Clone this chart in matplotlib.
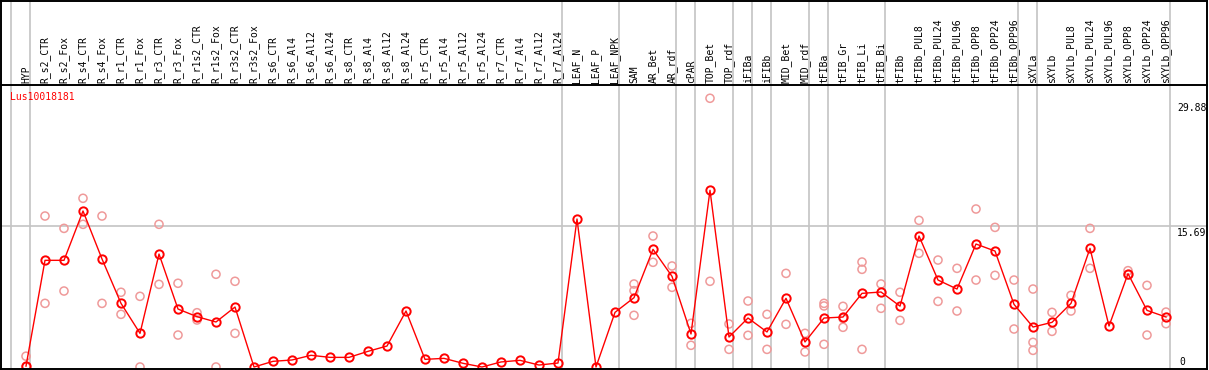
import matplotlib
matplotlib.use("Agg")
import matplotlib.pyplot as plt
import matplotlib.transforms as mtransforms

# sample names (one column each)
samples = ["HYP", "R_s2_CTR", "R_s2_Fox", "R_s4_CTR", "R_s4_Fox", "R_r1_CTR", "R_r1_Fox",
           "R_r3_CTR", "R_r3_Fox", "R_r1s2_CTR", "R_r1s2_Fox", "R_r3s2_CTR", "R_r3s2_Fox",
           "R_s6_CTR", "R_s6_Al4", "R_s6_Al12", "R_s6_Al24", "R_s8_CTR", "R_s8_Al4",
           "R_s8_Al12", "R_s8_Al24", "R_r5_CTR", "R_r5_Al4", "R_r5_Al12", "R_r5_Al24",
           "R_r7_CTR", "R_r7_Al4", "R_r7_Al12", "R_r7_Al24", "LEAF_N", "LEAF_P", "LEAF_NPK",
           "SAM", "AR_Bet", "AR_rdf", "cPAR", "TOP_Bet", "TOP_rdf", "iFIBa", "iFIBb",
           "MID_Bet", "MID_rdf", "tFIBa", "tFIB_Gr", "tFIB_Li", "tFIB_Bi", "tFIBb",
           "tFIBb_PUL8", "tFIBb_PUL24", "tFIBb_PUL96", "tFIBb_OPP8", "tFIBb_OPP24",
           "tFIBb_OPP96", "sXYLa", "sXYLb", "sXYLb_PUL8", "sXYLb_PUL24", "sXYLb_PUL96",
           "sXYLb_OPP8", "sXYLb_OPP24", "sXYLb_OPP96"]

# mean expression
means = [0.1, 11.85, 11.85, 17.33, 12.0, 7.07, 3.74, 12.55, 6.44, 5.59, 5.0, 6.66, 0.0,
         0.63, 0.78, 1.3, 1.07, 1.07, 1.74, 2.33, 6.22, 0.85, 0.96, 0.41, 0.0,
         0.56, 0.74, 0.22, 0.44, 16.44, 0.0, 6.07,
         7.7, 13.07, 10.07, 3.67, 19.63, 3.33, 5.44, 3.89,
         7.63, 2.78, 5.44, 5.55, 8.18, 8.33, 6.76,
         14.55, 9.66, 8.66, 13.66, 12.88, 6.96,
         4.44, 4.96, 7.07, 13.18, 4.55, 10.37, 6.29, 5.55]

# replicate values
reps = [[1.2, 0.0], [16.77, 7.07], [15.4, 8.44], [18.74, 15.85], [16.77, 7.07],
        [8.3, 5.85], [7.85, 0.0], [15.85, 9.18], [9.3, 3.55], [6.03, 5.22],
        [10.3, 0.0], [9.52, 3.74], [], [], [], [], [], [], [], [], [], [], [], [], [],
        [], [], [], [], [], [], [],
        [9.22, 8.48, 5.74], [14.55, 11.63], [11.22, 8.85], [4.85, 2.41],
        [29.85, 9.52], [4.78, 1.96], [7.33, 3.52], [5.85, 1.96],
        [10.4, 4.74], [3.74, 1.67], [7.07, 6.78, 2.52], [6.74, 5.4, 4.41],
        [11.66, 10.85, 1.96], [9.22, 6.52], [8.3, 5.18],
        [16.29, 12.63], [11.88, 7.29], [10.96, 6.22], [17.55, 9.66], [15.51, 10.18],
        [9.66, 4.22],
        [8.66, 2.74, 1.85], [6.07, 3.96], [7.96, 6.22], [15.4, 10.96], [],
        [10.7, 10.22], [9.07, 3.55], [6.1, 4.81]]

# columns after which a grey separator is drawn
group_ends = [-1, 0, 28, 31, 34, 35, 37, 38, 39, 41, 42, 45, 52, 53, 60]

gene = "Lus10018181"
y_top = 29.88
y_mid = 15.69

W, H = 1209, 370
fig = plt.figure(figsize=(W / 100, H / 100), dpi=100)
ax = fig.add_axes([0, 0, 1, 1])
ax.set_axis_off()

# pixel layout: column i at 26 + 19 i, value 0 at row 367, 29.88 at row 98
px_per_unit = (367 - 98) / y_top
ax.set_xlim(-26 / 19, (W - 26) / 19)
ax.set_ylim(-(H - 367) / px_per_unit, 367 / px_per_unit)

mono = "DejaVu Sans Mono"
grey = "#c4c4c4"
trans = mtransforms.blended_transform_factory(ax.transData, ax.transAxes)

# frame
for xs, ys in [([1 / W, 1207 / W], [1 - 0.5 / H, 1 - 0.5 / H]),
               ([1 / W, 1207 / W], [1 - 369 / H, 1 - 369 / H]),
               ([1 / W, 1207 / W], [1 - 85 / H, 1 - 85 / H]),
               ([1 / W, 1 / W], [0, 1]),
               ([1207 / W, 1207 / W], [0, 1])]:
    ax.plot(xs, ys, color="black", lw=1.4, transform=ax.transAxes, zorder=5)

# grid
for g in group_ends:
    ax.plot([g + 0.2, g + 0.2], [1 - 369 / H, 1], color=grey, lw=1.2, transform=trans, zorder=1)
ax.axhline(y_mid, xmin=1 / W, xmax=1207 / W, color=grey, lw=1.2, zorder=1)

# column labels
for i, name in enumerate(samples):
    ax.text(i, 1 - 83 / H, name, rotation=90, ha="center", va="bottom",
            fontsize=7, family=mono, transform=trans)

# replicates
rx = [i for i, r in enumerate(reps) for v in r]
ry = [v for r in reps for v in r]
ax.scatter(rx, ry, s=34, facecolors="none", edgecolors="#ef9a9a", linewidths=1.1, zorder=2)

# means
ax.plot(range(len(means)), means, color="red", lw=1.0, marker="o", ms=6,
        mfc="none", mec="red", mew=1.4, zorder=3)

ax.text(10 / W, 1 - 97 / H, gene, color="red", fontsize=7,
        family=mono, va="center", ha="left", transform=ax.transAxes)
ax.text(1177 / W, 1 - 108 / H, f"{y_top:.2f}", fontsize=7, family=mono, va="center",
        ha="left", transform=ax.transAxes)
ax.text(1177 / W, 1 - 233 / H, f"{y_mid:.2f}", fontsize=7, family=mono, va="center",
        ha="left", transform=ax.transAxes)
ax.text(1179 / W, 1 - 362 / H, "0", fontsize=7, family=mono, va="center",
        ha="left", transform=ax.transAxes)

fig.savefig("out.png", dpi=100)
